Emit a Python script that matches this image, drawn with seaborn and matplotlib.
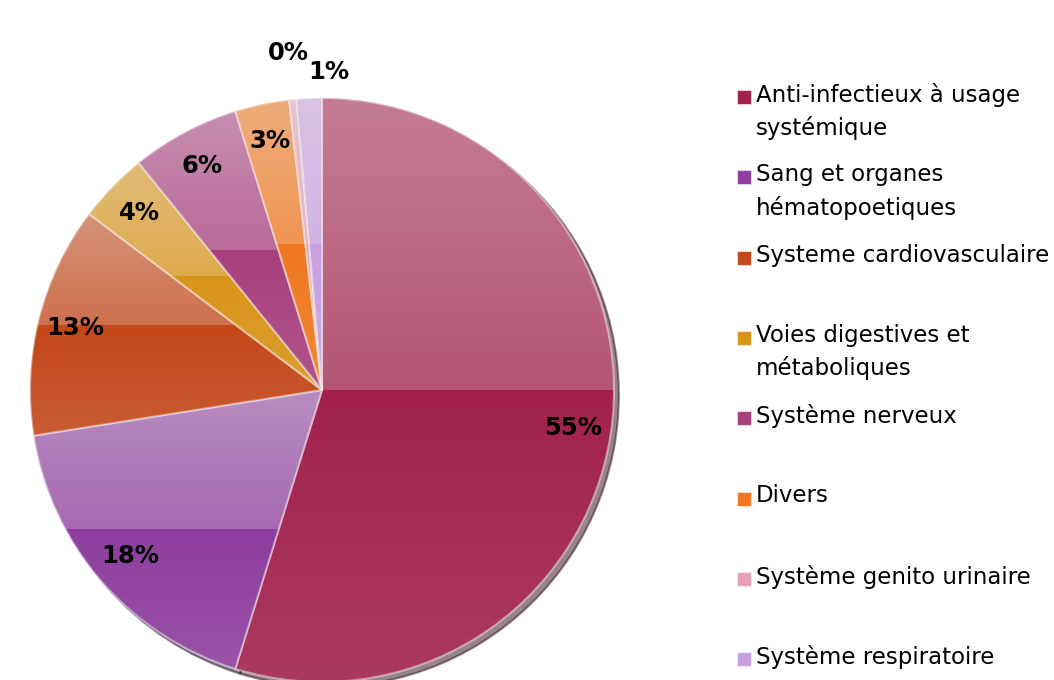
import numpy as np
import matplotlib
matplotlib.use("Agg")
import matplotlib.pyplot as plt
from matplotlib.patches import Rectangle
import seaborn as sns

# data (percent of total)
categories = ["Anti-infectieux à usage\nsystémique", "Sang et organes\nhématopoetiques",
              "Systeme cardiovasculaire", "Voies digestives et\nmétaboliques",
              "Système nerveux", "Divers", "Système genito urinaire", "Système respiratoire"]
values = [54.8, 17.7, 12.8, 3.9, 6.0, 3.0, 0.4, 1.4]
colors = ["#A2224D", "#8E3E9E", "#C4481A", "#D9941A", "#A8407E", "#F07820", "#E4A0B6", "#C8A0E0"]
label_dist = [0.87, 0.87, 0.87, 0.87, 0.87, 0.87, 1.16, 1.09]
label_ha = ["center"] * 7 + ["left"]

sns.set_theme(style="white")
plt.rcParams['font.family'] = ['DejaVu Sans']

fig = plt.figure(figsize=(10.54, 6.8), dpi=100)
W, H = 1054, 680
cx, cy, R = 322, 390, 292
ax = fig.add_axes([(cx - R) / W, (H - cy - R) / H, 2 * R / W, 2 * R / H])

wedges, texts, autotexts = ax.pie(
    values, colors=colors, startangle=90, counterclock=False,
    autopct=lambda p: "%.0f%%" % p, pctdistance=0.87,
    wedgeprops=dict(edgecolor=(1, 1, 1, 0.45), linewidth=1.5),
    shadow=dict(ox=0.012, oy=-0.012, shade=0.7),
    textprops=dict(fontsize=17.5, fontweight="bold", color="black"))

# glossy look: lighter, greyish upper half of each slice
n = 200
grad = np.zeros((n, 1, 4))
grad[..., :3] = 0.93
top = np.linspace(0.45, 0.25, n // 2)
bottom = np.linspace(0.0, 0.12, n - n // 2)
grad[:, 0, 3] = np.concatenate([top, bottom])
for w in wedges:
    bb = w.get_path().get_extents()
    im = ax.imshow(grad, extent=(bb.x0, bb.x1, bb.y0, bb.y1), origin="upper",
                   interpolation="nearest", zorder=w.get_zorder() + 0.5)
    im.set_clip_path(w)

# move percent labels (small slices sit outside)
for w, t, d, ha in zip(wedges, autotexts, label_dist, label_ha):
    ang = np.deg2rad((w.theta1 + w.theta2) / 2)
    t.set_position((d * np.cos(ang), d * np.sin(ang)))
    t.set_ha(ha)
    t.set_zorder(10)

ax.set_xlim(-1, 1)
ax.set_ylim(-1, 1)
ax.set_aspect("equal")
ax.axis("off")

# legend on the right, marker aligned with first line
for i, (lab, col) in enumerate(zip(categories, colors)):
    y = 97 + i * 80.3
    fig.add_artist(Rectangle((737 / W, 1 - (y + 7) / H), 14 / W, 14 / H,
                             transform=fig.transFigure, facecolor=col,
                             edgecolor=(1, 1, 1, 0.5), linewidth=0.8))
    fig.text(756 / W, 1 - (y - 14) / H, lab, fontsize=16.5, va="top", ha="left",
             linespacing=1.5, color="black")

fig.savefig("out.png", dpi=100)
